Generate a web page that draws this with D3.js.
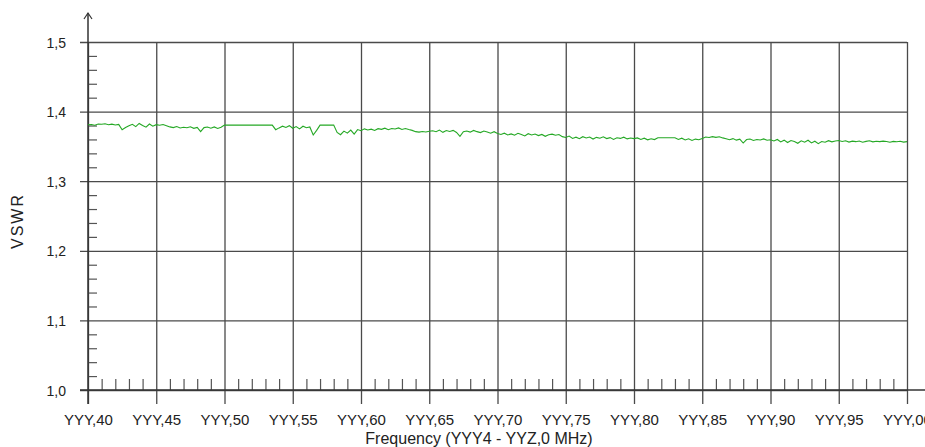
<!DOCTYPE html>
<html>
<head>
<meta charset="utf-8">
<title>VSWR</title>
<script src="https://cdn.jsdelivr.net/npm/d3@7/dist/d3.min.js"></script>
<style>
    html, body { margin: 0; padding: 0; background: #fff; }
    svg { display: block; font-family: 'Liberation Sans', Arial, sans-serif; }
    .lbl { fill: #222; }
</style>
</head>
<body>
<div id="graph"></div>
<script>
'use strict';

// sweep points, 0.25 steps from YYY,40 to YYY,00
const freq = d3.range(40, 100.001, 0.25);

// VSWR, one value per sweep point
const vswr = [
    1.3810, 1.3815, 1.3805, 1.3822, 1.3818, 1.3826, 1.3812, 1.3820, 1.3808, 1.3816,
    1.3740, 1.3772,
    1.3795, 1.3818, 1.3784, 1.3830, 1.3800, 1.3776, 1.3822, 1.3790, 1.3812,
    1.3805, 1.3815, 1.3798,
    1.3780, 1.3770, 1.3786, 1.3764, 1.3775, 1.3768, 1.3782, 1.3760, 1.3772, 1.3712,
    1.3770, 1.3778, 1.3762, 1.3780, 1.3758, 1.3776,
    1.3806, 1.3806, 1.3806, 1.3806, 1.3806, 1.3806, 1.3806, 1.3806, 1.3806, 1.3806,
    1.3806, 1.3806, 1.3806, 1.3806, 1.3806,
    1.3740, 1.3766,
    1.3790, 1.3772, 1.3798, 1.3760, 1.3785, 1.3752, 1.3790, 1.3768, 1.3780,
    1.3664, 1.3730,
    1.3806, 1.3806, 1.3806, 1.3806, 1.3806,
    1.3700, 1.3668, 1.3720, 1.3690, 1.3735, 1.3676,
    1.3742, 1.3725, 1.3752, 1.3735, 1.3748, 1.3730, 1.3755,
    1.3745, 1.3762, 1.3740, 1.3758, 1.3750, 1.3765, 1.3744, 1.3756, 1.3742, 1.3730,
    1.3712, 1.3705, 1.3715, 1.3708, 1.3718,
    1.3725, 1.3710, 1.3735, 1.3702, 1.3728, 1.3715, 1.3730, 1.3700, 1.3645, 1.3710,
    1.3722, 1.3705, 1.3730, 1.3712, 1.3698, 1.3720, 1.3708, 1.3690, 1.3712,
    1.3685, 1.3672, 1.3690, 1.3665, 1.3680, 1.3660, 1.3688, 1.3670, 1.3650, 1.3682,
    1.3664, 1.3678, 1.3655, 1.3672, 1.3645, 1.3668, 1.3676, 1.3660, 1.3670,
    1.3640, 1.3628, 1.3648, 1.3615, 1.3632, 1.3610, 1.3640, 1.3622, 1.3635, 1.3605,
    1.3630, 1.3618, 1.3638, 1.3612, 1.3626, 1.3600, 1.3624, 1.3615, 1.3632, 1.3608,
    1.3620, 1.3612,
    1.3622, 1.3600, 1.3618, 1.3595, 1.3610, 1.3598,
    1.3624, 1.3624, 1.3624, 1.3624, 1.3624, 1.3624,
    1.3600, 1.3618, 1.3592, 1.3610, 1.3585, 1.3605, 1.3596, 1.3615,
    1.3635, 1.3628, 1.3640, 1.3630, 1.3638, 1.3622,
    1.3610, 1.3596, 1.3612, 1.3590, 1.3604, 1.3548, 1.3598, 1.3606, 1.3585, 1.3600,
    1.3592, 1.3608, 1.3588,
    1.3595, 1.3578, 1.3600, 1.3565, 1.3590, 1.3555, 1.3585, 1.3570, 1.3545, 1.3580,
    1.3560, 1.3588, 1.3550, 1.3575, 1.3540, 1.3570, 1.3560, 1.3582, 1.3565, 1.3578,
    1.3585, 1.3570, 1.3580, 1.3562, 1.3575, 1.3568, 1.3578, 1.3560, 1.3572, 1.3580,
    1.3565, 1.3574, 1.3568, 1.3576, 1.3570, 1.3560, 1.3572, 1.3566, 1.3574, 1.3562,
    1.3568
];

// tick values
const xMajor = [40, 45, 50, 55, 60, 65, 70, 75, 80, 85, 90, 95, 100];
const xMinor = d3.range(41, 100).filter((d) => d % 5 !== 0);
const yMajor = [1.0, 1.1, 1.2, 1.3, 1.4, 1.5];
const yMinor = [1.02, 1.04, 1.06, 1.08, 1.12, 1.14, 1.16, 1.18, 1.22, 1.24, 1.26, 1.28,
                1.32, 1.34, 1.36, 1.38, 1.42, 1.44, 1.46, 1.48];

const xTitle = 'Frequency (YYY4 - YYZ,0 MHz)';
const yTitle = 'VSWR';

const measurements = {
    width: 925,
    height: 447,
    left: 88,
    right: 907,
    top: 42,
    bottom: 390
};

const gridColor = '#4a4a4a';

let svg = d3.select('#graph')
    .append('svg')
    .attr('width', measurements.width)
    .attr('height', measurements.height);

let xScale = d3.scaleLinear()
    .domain([40, 100])
    .range([measurements.left, measurements.right]);

let yScale = d3.scaleLinear()
    .domain([1.0, 1.5])
    .range([measurements.bottom, measurements.top]);

function styleAxis(g, color, width) {
    g.select('.domain').remove();
    g.selectAll('line')
        .attr('stroke', color)
        .attr('stroke-width', width);
}

// horizontal grid, ticks poke out 8px left of the y axis
svg.append('g')
    .attr('transform', 'translate(' + measurements.right + ', 0)')
    .call(d3.axisLeft(yScale).tickValues(yMajor).tickFormat('')
        .tickSize(measurements.right - measurements.left + 8))
    .call((g) => styleAxis(g, gridColor, 1.3));

// vertical grid, runs 14px under the x axis
svg.append('g')
    .attr('transform', 'translate(0, ' + measurements.top + ')')
    .call(d3.axisBottom(xScale).tickValues(xMajor).tickFormat('')
        .tickSize(measurements.bottom - measurements.top + 14))
    .call((g) => styleAxis(g, gridColor, 1.3));

// minor ticks
svg.append('g')
    .attr('transform', 'translate(0, ' + measurements.bottom + ')')
    .call(d3.axisTop(xScale).tickValues(xMinor).tickFormat('').tickSize(11))
    .call((g) => styleAxis(g, '#555', 1.2));

svg.append('g')
    .attr('transform', 'translate(' + measurements.left + ', 0)')
    .call(d3.axisRight(yScale).tickValues(yMinor).tickFormat('').tickSize(9))
    .call((g) => styleAxis(g, '#555', 1.2));

// axis lines
svg.append('line')
    .attr('x1', measurements.left - 8).attr('x2', measurements.width)
    .attr('y1', measurements.bottom).attr('y2', measurements.bottom)
    .attr('stroke', '#333').attr('stroke-width', 1.5);

svg.append('line')
    .attr('x1', measurements.left).attr('x2', measurements.left)
    .attr('y1', measurements.bottom + 14).attr('y2', 13)
    .attr('stroke', '#333').attr('stroke-width', 1.5);

svg.append('path')
    .attr('d', 'M' + (measurements.left - 4) + ',19L' + measurements.left + ',13L' + (measurements.left + 4) + ',19')
    .attr('fill', 'none')
    .attr('stroke', '#333')
    .attr('stroke-width', 1.2);

// tick labels
let fmtY = (d) => d3.format('.1f')(d).replace('.', ',');
let fmtX = (d) => 'YYY,' + d3.format('02d')(d % 100);

let yLabels = svg.append('g')
    .attr('transform', 'translate(' + measurements.left + ', 0)')
    .call(d3.axisLeft(yScale).tickValues(yMajor).tickFormat(fmtY).tickSize(0).tickPadding(22));
yLabels.select('.domain').remove();
yLabels.selectAll('text')
    .attr('class', 'lbl')
    .style('font-size', '14px')
    .attr('dy', '0.36em');

let xLabels = svg.append('g')
    .attr('transform', 'translate(0, ' + measurements.bottom + ')')
    .call(d3.axisBottom(xScale).tickValues(xMajor).tickFormat(fmtX).tickSize(0).tickPadding(24));
xLabels.select('.domain').remove();
xLabels.selectAll('text')
    .attr('class', 'lbl')
    .style('font-size', '15px');

// axis titles
svg.append('text')
    .attr('class', 'lbl')
    .attr('x', 479)
    .attr('y', 444)
    .attr('text-anchor', 'middle')
    .style('font-size', '16px')
    .text(xTitle);

svg.append('text')
    .attr('class', 'lbl')
    .attr('transform', 'translate(23, 221)rotate(-90)')
    .attr('text-anchor', 'middle')
    .style('font-size', '16px')
    .style('letter-spacing', '2px')
    .text(yTitle);

// the trace
let line = d3.line()
    .x((d, i) => xScale(freq[i]))
    .y((d) => yScale(d));

svg.append('path')
    .datum(vswr)
    .attr('fill', 'none')
    .attr('stroke', '#25a825')
    .attr('stroke-width', 1.1)
    .attr('d', line);
</script>
</body>
</html>
